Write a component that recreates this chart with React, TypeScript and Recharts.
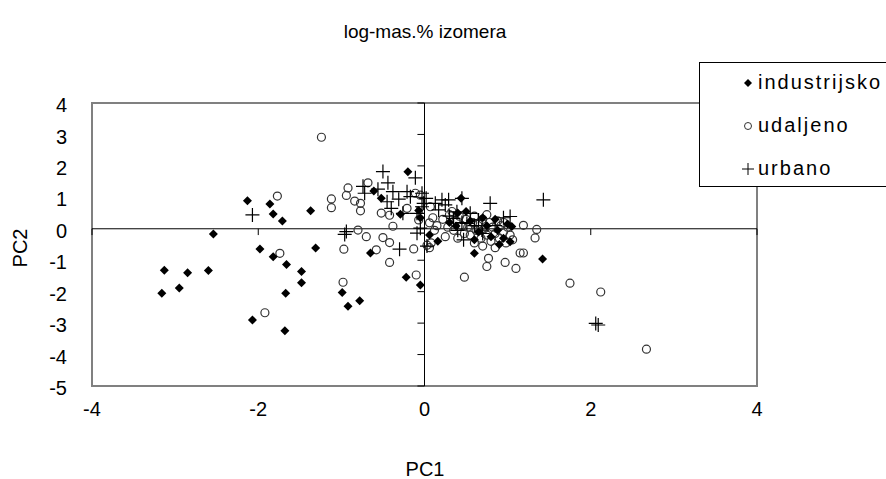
import React from "react";
import {ReferenceArea, ReferenceLine, Scatter, ScatterChart, XAxis, YAxis} from "recharts";

type Pt = {x: number; y: number};
const toPts = (rows: number[][]): Pt[] => rows.map(([x, y]) => ({x, y}));

const industrijsko = toPts([
    [-3.13, -1.32], [-3.16, -2.05], [-2.85, -1.40], [-2.95, -1.88], [-2.60, -1.33], [-2.54, -0.17],
    [-2.13, 0.89], [-2.07, -2.90], [-1.98, -0.64], [-1.86, 0.79], [-1.82, 0.47], [-1.82, -0.89],
    [-1.71, 0.25], [-1.66, -1.14], [-1.68, -3.24], [-1.67, -2.05], [-1.48, -1.36], [-1.48, -1.72],
    [-1.37, 0.57], [-1.31, -0.61], [-0.99, -2.03], [-0.92, -2.46], [-0.78, -2.29], [-0.65, -0.77],
    [-0.61, 1.20], [-0.52, 0.97], [-0.29, 0.46], [-0.22, -1.54], [-0.20, 1.81], [-0.07, 0.58],
    [-0.05, 0.35], [-0.05, -1.79], [0.06, -0.20], [0.16, -0.40], [0.44, 0.97], [0.38, 0.09],
    [0.60, -0.78], [1.42, -0.96], [1.05, 0.07], [1.03, -0.41], [0.30, 0.20], [0.55, 0.25],
    [0.65, -0.10], [0.75, 0.10], [0.80, -0.25], [0.88, -0.05], [0.95, -0.30], [1.00, 0.15],
    [0.70, 0.35], [0.85, 0.30], [0.60, -0.35], [0.90, -0.50], [0.40, 0.50], [0.50, 0.55],
]);

const udaljeno = toPts([
    [-1.77, 1.04], [-1.74, -0.78], [-1.92, -2.67], [-1.24, 2.91], [-1.12, 0.95], [-1.12, 0.67],
    [-0.92, 1.30], [-0.94, 1.06], [-0.84, 0.88], [-0.77, 0.81], [-0.77, 0.57], [-0.68, 1.46],
    [-0.52, 0.50], [-0.42, 0.43], [-0.38, 0.08], [-0.21, 0.65], [-0.11, 1.13], [-0.05, 1.07],
    [-0.80, -0.04], [-0.70, -0.25], [-0.50, -0.28], [-0.42, -0.44], [-0.58, -0.67], [-0.42, -1.07],
    [-0.13, -0.64], [-0.10, -1.47], [-0.98, -1.70], [-0.97, -0.65], [0.03, -0.52], [0.07, 0.70],
    [0.06, 0.19], [-0.07, 0.28], [0.48, -1.54], [0.77, -0.94], [0.97, -1.07], [0.75, -1.20],
    [1.10, -1.26], [1.15, -0.77], [1.19, -0.77], [1.19, 0.11], [1.35, -0.02], [1.33, -0.29],
    [1.75, -1.73], [2.12, -2.01], [2.67, -3.83],
    [0.10, 0.35], [0.15, 0.10], [0.22, 0.30], [0.28, 0.05], [0.30, 0.45], [0.35, -0.05],
    [0.38, 0.25], [0.42, 0.40], [0.45, 0.10], [0.48, -0.15], [0.50, 0.30], [0.52, 0.05],
    [0.55, -0.20], [0.58, 0.20], [0.60, 0.40], [0.62, -0.05], [0.65, 0.15], [0.68, -0.30],
    [0.70, 0.30], [0.72, 0.00], [0.75, -0.20], [0.78, 0.20], [0.80, -0.40], [0.82, 0.05],
    [0.85, -0.15], [0.88, 0.25], [0.90, -0.30], [0.92, 0.10], [0.95, -0.10], [0.98, -0.45],
    [1.00, 0.05], [1.03, -0.20], [1.06, -0.35], [0.60, -0.45], [0.70, -0.55], [0.85, -0.60],
    [0.40, -0.30], [0.25, -0.25], [0.95, 0.20], [0.75, 0.45], [0.33, 0.55], [0.12, -0.05],
    [0.08, -0.45], [0.06, -0.60],
]);

const urbano = toPts([
    [-2.07, 0.44], [-0.96, -0.18], [-0.94, -0.09], [-0.74, 1.35], [-0.72, 1.13], [-0.56, 1.26],
    [-0.50, 1.82], [-0.45, 0.86], [-0.44, 1.46], [-0.40, 0.65], [-0.38, 1.18], [-0.31, 0.94],
    [-0.30, -0.65], [-0.26, 0.49], [-0.21, 1.18], [-0.17, 1.02], [-0.11, 1.62], [-0.09, 0.49],
    [-0.09, -0.14], [-0.05, 0.02], [-0.03, 1.13], [-0.01, 0.81], [-0.03, 0.70], [0.02, 0.97],
    [0.03, -0.55], [0.13, 0.81], [0.17, 0.60], [0.21, 0.92], [0.25, 0.76], [0.29, 0.92],
    [0.35, 0.33], [0.39, 0.54], [0.45, 0.97], [0.47, -0.35], [0.51, 0.17], [0.55, 0.49],
    [0.65, 0.28], [0.69, -0.04], [0.79, 0.81], [1.03, 0.39], [1.43, 0.92], [2.06, -3.01],
    [2.09, -3.06], [0.30, 0.40], [0.45, 0.20], [0.60, 0.10], [0.85, 0.10], [0.95, 0.35],
    [0.70, -0.15], [0.40, -0.05],
]);

const xTicks = [-4, -2, 0, 2, 4];
const yTicks = [-5, -4, -3, -2, -1, 0, 1, 2, 3, 4];

const font = "Arial, 'Liberation Sans', sans-serif";

const Diamond = (p: any) => (
    <path
        d={`M${p.cx},${p.cy - 4.5}L${p.cx + 4.5},${p.cy}L${p.cx},${p.cy + 4.5}L${p.cx - 4.5},${p.cy}Z`}
        fill="#000"
    />
);
const Ring = (p: any) => <circle cx={p.cx} cy={p.cy} r={4} fill="none" stroke="#333" strokeWidth={1.2}/>;
const Plus = (p: any) => (
    <path
        d={`M${p.cx - 7},${p.cy}H${p.cx + 7}M${p.cx},${p.cy - 7}V${p.cy + 7}`}
        stroke="#000"
        strokeWidth={1.2}
    />
);

const legendItems = [
    {name: "industrijsko", marker: <path d="M6,2L10,6L6,10L2,6Z" fill="#000"/>},
    {name: "udaljeno", marker: <circle cx={6} cy={6} r={3.5} fill="none" stroke="#333" strokeWidth={1}/>},
    {name: "urbano", marker: <path d="M0,6H12M6,0V12" stroke="#000" strokeWidth={1}/>},
];

export default function App() {
    return (
        <div style={{position: "absolute", left: 0, top: 0, width: 886, height: 479, background: "#fff", fontFamily: font}}>
            <div style={{position: "absolute", left: 0, width: 850, top: 21, textAlign: "center", fontSize: 19}}>
                log-mas.% izomera
            </div>
            <div style={{position: "absolute", left: 0, width: 850, top: 460, lineHeight: "18px", textAlign: "center", fontSize: 20}}>
                PC1
            </div>
            <div
                style={{
                    position: "absolute", left: 20, top: 248, fontSize: 20,
                    transform: "translate(-50%, -50%) rotate(-90deg)",
                }}
            >
                PC2
            </div>
            <ScatterChart width={886} height={479} margin={{top: 103, right: 129, bottom: 63, left: 52}}>
                <XAxis
                    type="number"
                    dataKey="x"
                    domain={[-4, 4]}
                    ticks={xTicks}
                    axisLine={false}
                    tickLine={false}
                    tickMargin={10}
                    height={30}
                    tick={{fill: "#000", fontSize: 20, fontFamily: font}}
                />
                <YAxis
                    type="number"
                    dataKey="y"
                    domain={[-5, 4]}
                    ticks={yTicks}
                    interval={0}
                    axisLine={false}
                    tickLine={false}
                    tickMargin={19}
                    width={40}
                    tick={{fill: "#000", fontSize: 20, fontFamily: font, dy: 2}}
                />
                <ReferenceArea x1={-4} x2={4} y1={-5} y2={4} fill="none" stroke="#808080" strokeWidth={2}/>
                <ReferenceLine x={0} stroke="#000" strokeWidth={1}/>
                <ReferenceLine y={0} stroke="#000" strokeWidth={1}/>
                {xTicks.map((t) => (
                    <ReferenceLine key={`xt${t}`} segment={[{x: t, y: 0}, {x: t, y: -0.2}]} stroke="#000"/>
                ))}
                {yTicks.map((t) => (
                    <ReferenceLine key={`yt${t}`} segment={[{x: 0, y: t}, {x: -0.085, y: t}]} stroke="#000"/>
                ))}
                <Scatter data={udaljeno} shape={Ring} isAnimationActive={false}/>
                <Scatter data={industrijsko} shape={Diamond} isAnimationActive={false}/>
                <Scatter data={urbano} shape={Plus} isAnimationActive={false}/>
            </ScatterChart>
            <div
                style={{
                    position: "absolute", left: 699, top: 62, width: 200, height: 125,
                    border: "1px solid #000", background: "#fff", boxSizing: "border-box",
                }}
            >
                {legendItems.map((it, i) => (
                    <div
                        key={it.name}
                        style={{position: "absolute", left: 42, top: 8 + i * 43, display: "flex", alignItems: "center", fontSize: 20, letterSpacing: 2}}
                    >
                        <svg width={12} height={12} style={{marginRight: 4}}>{it.marker}</svg>
                        {it.name}
                    </div>
                ))}
            </div>
        </div>
    );
}
